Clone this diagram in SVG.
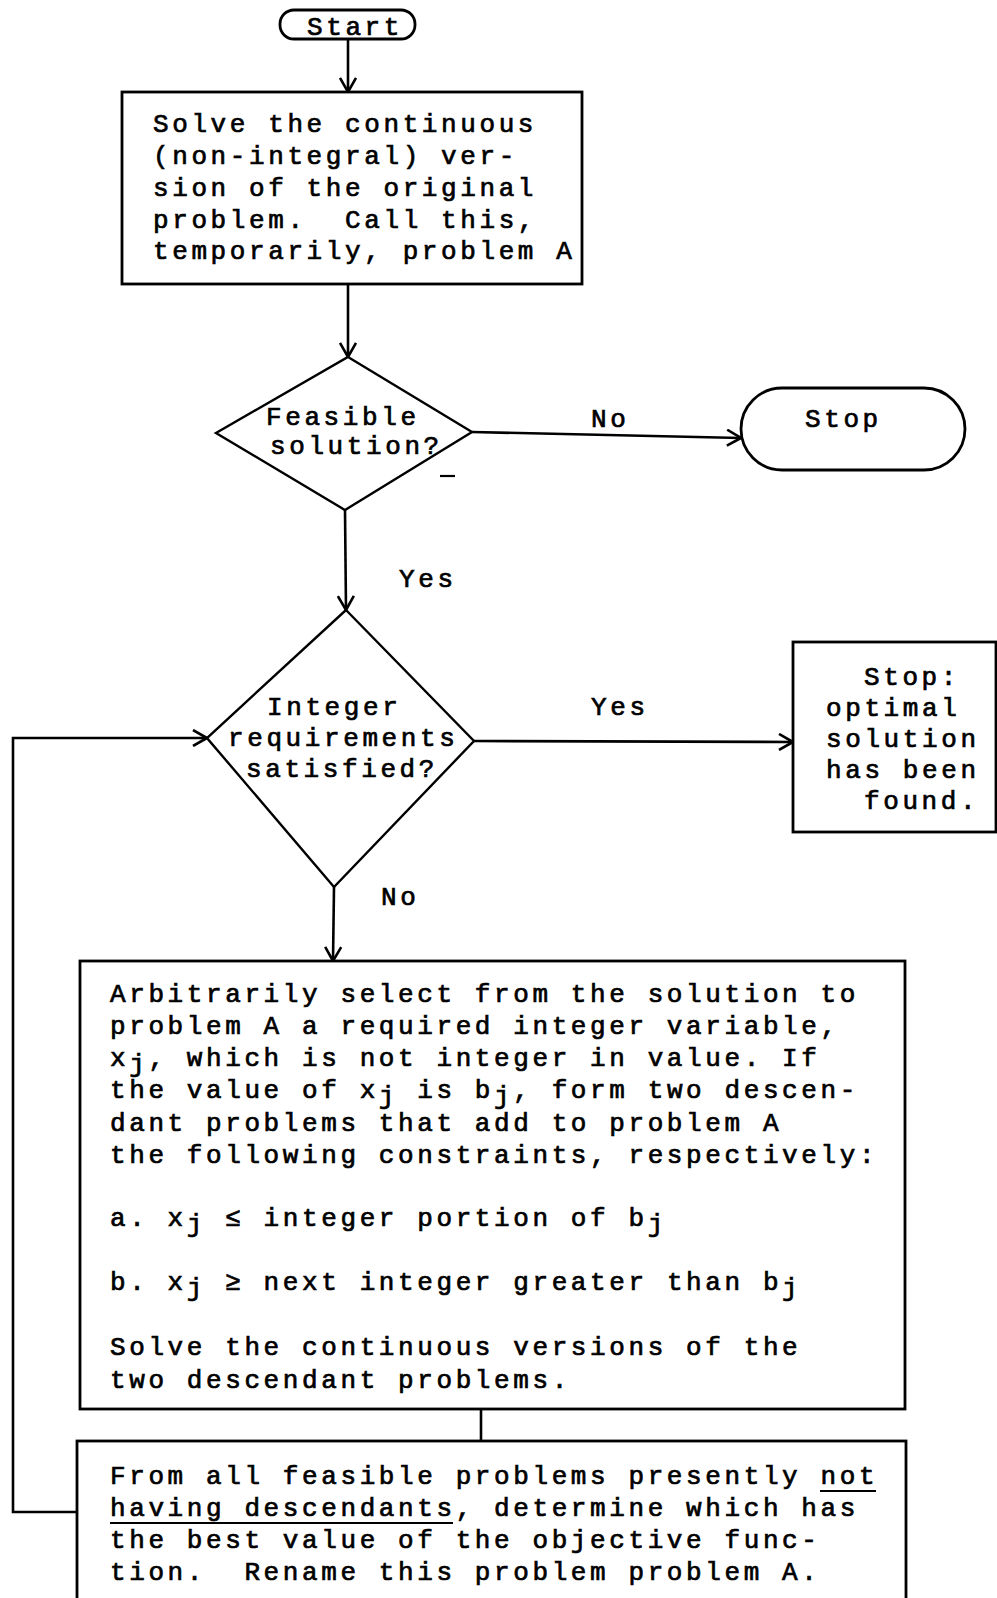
<svg xmlns="http://www.w3.org/2000/svg" width="997" height="1598" viewBox="0 0 997 1598">
<style>
  text { font-family: "Liberation Mono", "Courier New", monospace; font-size: 26px; letter-spacing: 3.6px; fill: #000; stroke: #000; stroke-width: 0.7px; white-space: pre; }
  .box { fill: #fff; stroke: #000; stroke-width: 2.8; }
  .dia { fill: #fff; stroke: #000; stroke-width: 2.4; }
  .con { fill: none; stroke: #000; stroke-width: 2.6; }
  .ul { stroke: #000; stroke-width: 2.2; }
</style>
<defs>
  <marker id="arr" viewBox="0 0 16 18" refX="15" refY="9" markerWidth="16" markerHeight="18" orient="auto" markerUnits="userSpaceOnUse">
    <path d="M1,1 L15,9 L1,17" fill="none" stroke="#000" stroke-width="2.6"/>
  </marker>
</defs>
<rect width="997" height="1598" fill="#fff"/>

<g id="connectors">
  <line class="con" x1="348" y1="39" x2="348" y2="92" marker-end="url(#arr)"/>
  <line class="con" x1="348" y1="284" x2="348" y2="357" marker-end="url(#arr)"/>
  <line class="con" x1="472" y1="432" x2="741" y2="438" marker-end="url(#arr)"/>
  <line class="con" x1="345" y1="510" x2="346" y2="610" marker-end="url(#arr)"/>
  <line class="con" x1="474" y1="741" x2="793" y2="742" marker-end="url(#arr)"/>
  <line class="con" x1="334" y1="887" x2="333" y2="961" marker-end="url(#arr)"/>
  <line class="con" x1="481" y1="1409" x2="481" y2="1441"/>
  <polyline class="con" points="77,1512 13,1512 13,738 207,738" marker-end="url(#arr)"/>
  <text x="591" y="427">No</text>
  <text x="399" y="587">Yes</text>
  <text x="591" y="715">Yes</text>
  <text x="381" y="905">No</text>
</g>

<g id="start">
  <rect class="box" x="280" y="10" width="135" height="29" rx="14" ry="14"/>
  <text x="307" y="35">Start</text>
</g>

<g id="solve">
  <rect class="box" x="122" y="92" width="460" height="192"/>
  <text x="153" y="132">Solve the continuous</text>
  <text x="153" y="164">(non-integral) ver-</text>
  <text x="153" y="196">sion of the original</text>
  <text x="153" y="228">problem.  Call this,</text>
  <text x="153" y="259">temporarily, problem A</text>
</g>

<g id="feasible">
  <polygon class="dia" points="348,357 472,432 345,510 216,433"/>
  <text x="266" y="425">Feasible</text>
  <text x="270" y="454">solution?</text>
  <line class="ul" x1="440" y1="476" x2="455" y2="476"/>
</g>

<g id="stop">
  <rect class="box" x="741" y="388" width="224" height="82" rx="41" ry="41"/>
  <text x="805" y="427">Stop</text>
</g>

<g id="integer">
  <polygon class="dia" points="346,610 474,741 334,887 207,738"/>
  <text x="267" y="715">Integer</text>
  <text x="228" y="746">requirements</text>
  <text x="246" y="777">satisfied?</text>
</g>

<g id="optimal">
  <rect class="box" x="793" y="642" width="203" height="190"/>
  <text x="864" y="685">Stop:</text>
  <text x="826" y="716">optimal</text>
  <text x="826" y="747">solution</text>
  <text x="826" y="778">has been</text>
  <text x="864" y="809">found.</text>
</g>

<g id="branch">
  <rect class="box" x="80" y="961" width="825" height="448"/>
  <text x="110" y="1002">Arbitrarily select from the solution to</text>
  <text x="110" y="1034">problem A a required integer variable,</text>
  <text x="110" y="1066">x<tspan dy="6">j</tspan><tspan dy="-6">, which is not integer in value. If</tspan></text>
  <text x="110" y="1098">the value of x<tspan dy="6">j</tspan><tspan dy="-6"> is b</tspan><tspan dy="6">j</tspan><tspan dy="-6">, form two descen-</tspan></text>
  <text x="110" y="1131">dant problems that add to problem A</text>
  <text x="110" y="1163">the following constraints, respectively:</text>
  <text x="110" y="1226">a. x<tspan dy="6">j</tspan><tspan dy="-6"> ≤ integer portion of b</tspan><tspan dy="6">j</tspan></text>
  <text x="110" y="1290">b. x<tspan dy="6">j</tspan><tspan dy="-6"> ≥ next integer greater than b</tspan><tspan dy="6">j</tspan></text>
  <text x="110" y="1355">Solve the continuous versions of the</text>
  <text x="110" y="1388">two descendant problems.</text>
</g>

<g id="select">
  <rect class="box" x="77" y="1441" width="829" height="200"/>
  <text x="110" y="1484">From all feasible problems presently not</text>
  <line class="ul" x1="820" y1="1491" x2="876" y2="1491"/>
  <text x="110" y="1516">having descendants, determine which has</text>
  <line class="ul" x1="110" y1="1523" x2="453" y2="1523"/>
  <text x="110" y="1548">the best value of the objective func-</text>
  <text x="110" y="1580">tion.  Rename this problem problem A.</text>
</g>
</svg>
